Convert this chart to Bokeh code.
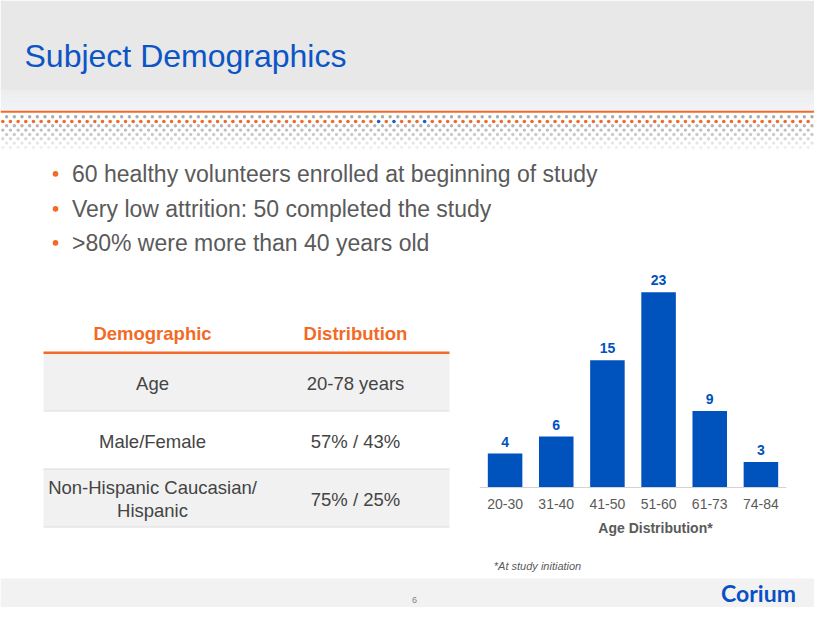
import numpy as np
from bokeh.plotting import figure
from bokeh.models import Range1d, FactorRange
from bokeh.layouts import column, row
from bokeh.embed import file_html
from bokeh.resources import INLINE
from bokeh.core.properties import value

# ---------------- data ----------------
title = "Subject Demographics"
bullets = ["60 healthy volunteers enrolled at beginning of study",
           "Very low attrition: 50 completed the study",
           ">80% were more than 40 years old"]
table_header = ["Demographic", "Distribution"]
table_labels = ["Age", "Male/Female", "Non-Hispanic Caucasian/\nHispanic"]
table_values = ["20-78 years", "57% / 43%", "75% / 25%"]
age_groups = ["20-30", "31-40", "41-50", "51-60", "61-73", "74-84"]
age_counts = [4, 6, 15, 23, 9, 3]
chart_title = "Age Distribution*"
footnote = "*At study initiation"
page_number = "6"
logo = "Corium"

# ---------------- styles ----------------
FONT = value("Liberation Sans")
BLUE = "#0052bd"
TITLE_BLUE = "#0b55c6"
ORANGE = "#f26a26"
GRAY_TEXT = "#5a5a5a"
DARK_TEXT = "#444444"

W, H = 814, 607          # picture pixels 0..814 x 0..607


def blank(width, height, x0, x1, y0, y1, bg="white"):
    p = figure(width=width, height=height, x_range=Range1d(x0, x1),
               y_range=Range1d(y1, y0), output_backend="svg",
               toolbar_location=None, x_axis_location=None,
               y_axis_location=None, min_border=0)
    p.grid.visible = False
    p.outline_line_color = None
    p.background_fill_color = bg
    p.border_fill_color = bg
    return p


# ---------------- header (y 0..262) ----------------
HDR_BOT = 262
hdr = blank(W, HDR_BOT, 0, W, 0, HDR_BOT)

hdr.quad(left=0, right=W, top=0, bottom=90, fill_color="#e8e8e8", line_color=None)
c0 = np.array([0xe8, 0xe8, 0xe8])
c1 = np.array([0xee, 0xf1, 0xf7])
for i in range(21):
    t = i / 20
    c = (c0 * (1 - t) + c1 * t).astype(int)
    hdr.quad(left=0, right=W, top=90 + i, bottom=91 + i,
             fill_color="#%02x%02x%02x" % tuple(c), line_color=None)
hdr.segment(x0=0, x1=W, y0=111.3, y1=111.3, line_color=ORANGE, line_width=2)

step = 7.67
rows_y = [116.3, 121.0, 125.3, 129.6, 134.0, 138.3, 142.6, 147.0]
rows_c = ["#ababab", None, "#b3b3b3", "#bebebe", "#cacaca", "#d8d8d8", "#e5e5e5", "#f0f0f0"]
for k, (yy, col) in enumerate(zip(rows_y, rows_c)):
    off = 2.3 if k % 2 == 1 else 2.3 + step / 2
    xs = np.arange(off, W, step)
    if col is None:
        cols = [ORANGE] * len(xs)
        for j in (49, 51, 55):
            cols[j] = "#1f5cc4"
        hdr.circle(x=xs, y=[yy] * len(xs), radius=1.8, fill_color=cols, line_color=None)
    else:
        hdr.circle(x=xs, y=[yy] * len(xs), radius=1.7, fill_color=col, line_color=None)

hdr.text(x=[24], y=[55.3], text=[title], text_font=FONT, text_font_size="32px",
         text_color=TITLE_BLUE, text_baseline="middle", text_align="left")

b_mid = [173.4, 208.4, 242.4]
hdr.circle(x=[55] * len(bullets), y=b_mid, radius=2.8, fill_color=ORANGE, line_color=None)
hdr.text(x=[71.5] * len(bullets), y=b_mid, text=bullets, text_font=FONT,
         text_font_size="23px", text_color=GRAY_TEXT, text_baseline="middle",
         text_align="left")

# ---------------- table (x 0..465, y 262..574) ----------------
MID_BOT = 574
LEFT_R = 465
tbl = blank(LEFT_R, MID_BOT - HDR_BOT, 0, LEFT_R, HDR_BOT, MID_BOT)
TL, TR = 43, 449
col_x = [152, 355]
tbl.text(x=col_x, y=[332.6, 332.6], text=table_header, text_font=FONT,
         text_font_size="18.5px", text_font_style="bold", text_color=ORANGE,
         text_align="center", text_baseline="middle")
row_top = [353.5, 410.5, 468.5]
row_bot = [410.0, 468.0, 526.0]
row_fill = ["#f1f1f1", "#ffffff", "#f1f1f1"]
tbl.quad(left=TL, right=TR, top=row_top, bottom=row_bot, fill_color=row_fill, line_color=None)
tbl.segment(x0=[TL] * 3, x1=[TR] * 3, y0=[b + 0.5 for b in row_bot],
            y1=[b + 0.5 for b in row_bot], line_color="#d9d9d9", line_width=1)
tbl.segment(x0=TL, x1=TR, y0=352.2, y1=352.2, line_color=ORANGE, line_width=2.5)
row_mid = [382.8, 440.5, 498.8]
tbl.text(x=[col_x[0]] * 3, y=row_mid, text=table_labels, text_font=FONT,
         text_font_size="18.5px", text_color=DARK_TEXT, text_align="center",
         text_baseline="middle", text_line_height=1.1)
tbl.text(x=[col_x[1]] * 3, y=row_mid, text=table_values, text_font=FONT,
         text_font_size="18.5px", text_color=DARK_TEXT, text_align="center",
         text_baseline="middle")

# ---------------- bar chart (x 465..814, y 262..574) ----------------
BASE = 487.0            # y of the bar baseline
FRAME_L, FRAME_R = 479, 786
ppu = 8.49              # pixels per count
band = (FRAME_R - FRAME_L) / len(age_groups)
chart = figure(width=W - LEFT_R, height=MID_BOT - HDR_BOT,
               x_range=FactorRange(*age_groups, range_padding=0),
               y_range=Range1d(-(MID_BOT - BASE) / ppu, (BASE - HDR_BOT) / ppu),
               output_backend="svg", toolbar_location=None, y_axis_location=None,
               min_border_left=FRAME_L - LEFT_R, min_border_right=W - FRAME_R,
               min_border_top=0, min_border_bottom=0)
chart.grid.visible = False
chart.outline_line_color = None
chart.background_fill_color = "white"
chart.border_fill_color = "white"
chart.vbar(x=age_groups, top=age_counts, width=0.675, fill_color=BLUE, line_color=None)
chart.text(x=age_groups, y=age_counts, text=[str(v) for v in age_counts], y_offset=-12,
           text_font=FONT, text_font_size="14px", text_font_style="bold",
           text_color=BLUE, text_align="center", text_baseline="middle")
ax = chart.xaxis[0]
ax.fixed_location = 0
ax.axis_line_color = "#d3d3d3"
ax.axis_line_width = 1
ax.major_tick_line_color = None
ax.minor_tick_line_color = None
ax.major_tick_out = 0
ax.major_tick_in = 0
ax.minor_tick_out = 0
ax.major_label_text_font = "Liberation Sans"
ax.major_label_text_font_size = "14px"
ax.major_label_text_color = GRAY_TEXT
ax.major_label_standoff = 11

# axis title and footnote, placed in pixels relative to category centres
chart.text(x=[age_groups[3]], y=[-(527.7 - BASE) / ppu], text=[chart_title],
           x_offset=655 - (FRAME_L + 3.5 * band),
           text_font=FONT, text_font_size="14px", text_font_style="bold",
           text_color=GRAY_TEXT, text_align="center", text_baseline="middle")
chart.text(x=[age_groups[0]], y=[-(565 - BASE) / ppu], text=[footnote],
           x_offset=493.3 - (FRAME_L + 0.5 * band),
           text_font=FONT, text_font_size="11px", text_font_style="italic",
           text_color=GRAY_TEXT, text_align="left", text_baseline="middle")

# ---------------- footer (y 574..607) ----------------
ftr = blank(W, H - MID_BOT, 0, W, MID_BOT, H)
ftr.quad(left=0, right=W, top=578, bottom=H, fill_color="#f2f2f2", line_color=None)
ftr.text(x=[414], y=[599], text=[page_number], text_font=FONT, text_font_size="9px",
         text_color="#7f7f7f", text_align="center", text_baseline="middle")
ftr.text(x=[758], y=[592.5], text=[logo], text_font=value("Lato"),
         text_font_size="23px", text_font_style="bold", text_color="#0a50c4",
         text_align="center", text_baseline="middle")

layout = column(hdr, row(tbl, chart), ftr)
open("out.html", "w").write(file_html(layout, INLINE))
